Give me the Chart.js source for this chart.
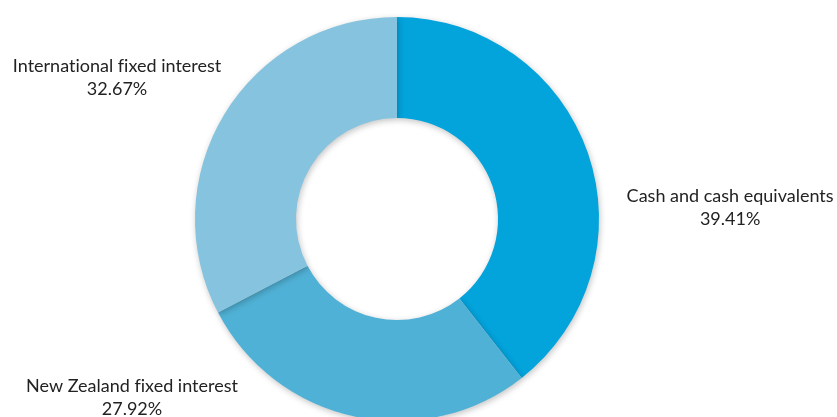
<!DOCTYPE html>
<html>
<head>
<meta charset="utf-8">
<script src="https://cdn.jsdelivr.net/npm/chart.js@4.4.1/dist/chart.umd.min.js"></script>
<style>
  html, body { margin: 0; padding: 0; background: #fff; overflow: hidden; }
  #wrap { width: 837px; height: 417px; position: relative; }
</style>
</head>
<body>
<div id="wrap"><canvas id="donut"></canvas></div>
<script>
// --- DATA ---
const categories = ['Cash and cash equivalents', 'New Zealand fixed interest', 'International fixed interest'];
const shares = [39.41, 27.92, 32.67];
const sliceColors = ['#03a3dc', '#50b1d6', '#86c3de'];

// label block placement, in units of the outer radius from the centre
const labelOffsets = [[1.649, -0.054], [-1.312, 0.886], [-1.386, -0.698]];

// soft drop shadow under the ring, like the office chart
const shadowPlugin = {
  id: 'ringShadow',
  beforeDatasetsDraw(chart) {
    const ctx = chart.ctx;
    ctx.save();
    ctx.shadowColor = 'rgba(0,0,0,0.24)';
    ctx.shadowBlur = 6;
    ctx.shadowOffsetX = 1;
    ctx.shadowOffsetY = 2;
  },
  afterDatasetsDraw(chart) {
    chart.ctx.restore();
  }
};

// category name + percentage outside each slice
const outsideLabels = {
  id: 'outsideLabels',
  afterDraw(chart) {
    const ctx = chart.ctx;
    const arcs = chart.getDatasetMeta(0).data;
    ctx.save();
    ctx.font = '18px Lato, "Open Sans", sans-serif';
    if ('textRendering' in ctx) ctx.textRendering = 'optimizeSpeed'; // no "ti" ligature
    ctx.fillStyle = '#222222';
    ctx.textAlign = 'center';
    ctx.textBaseline = 'middle';
    arcs.forEach((arc, i) => {
      const r = arc.outerRadius;
      const x = arc.x + labelOffsets[i][0] * r;
      const y = arc.y + labelOffsets[i][1] * r;
      ctx.fillText(categories[i], x, y - 11.5);
      ctx.fillText(shares[i].toFixed(2) + '%', x, y + 11.5);
    });
    ctx.restore();
  }
};

new Chart(document.getElementById('donut'), {
  type: 'doughnut',
  data: {
    labels: categories,
    datasets: [{
      data: shares,
      backgroundColor: sliceColors,
      borderWidth: 0
    }]
  },
  options: {
    responsive: true,
    maintainAspectRatio: false,
    animation: false,
    radius: 202,
    cutout: '50%',
    layout: { padding: { top: 21, right: 43, left: 0, bottom: 0 } },
    plugins: {
      legend: { display: false },
      tooltip: { enabled: false }
    }
  },
  plugins: [shadowPlugin, outsideLabels]
});
</script>
</body>
</html>
